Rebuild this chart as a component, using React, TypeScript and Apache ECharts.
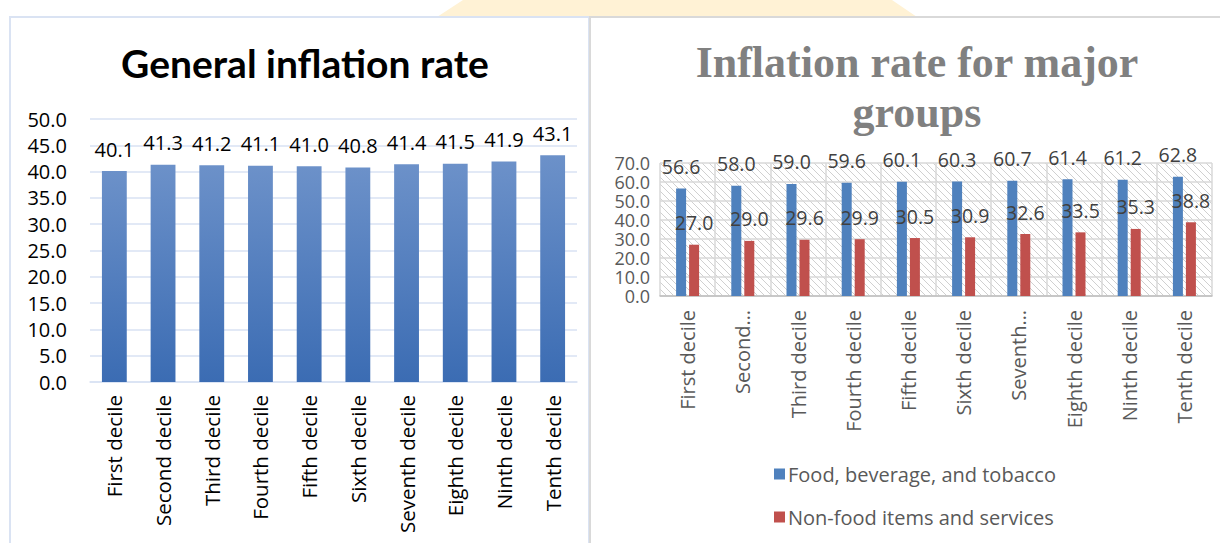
import React, { useEffect, useRef } from "react";
import * as echarts from "echarts";

const categories = [
  "First decile", "Second decile", "Third decile", "Fourth decile", "Fifth decile",
  "Sixth decile", "Seventh decile", "Eighth decile", "Ninth decile", "Tenth decile",
];
const rightTickLabels = [
  "First decile", "Second…", "Third decile", "Fourth decile", "Fifth decile",
  "Sixth decile", "Seventh…", "Eighth decile", "Ninth decile", "Tenth decile",
];
const generalRate = [40.1, 41.3, 41.2, 41.1, 41.0, 40.8, 41.4, 41.5, 41.9, 43.1];
const foodRate = [56.6, 58.0, 59.0, 59.6, 60.1, 60.3, 60.7, 61.4, 61.2, 62.8];
const nonFoodRate = [27.0, 29.0, 29.6, 29.9, 30.5, 30.9, 32.6, 33.5, 35.3, 38.8];
const seriesNames = ["Food, beverage, and tobacco", "Non-food items and services"];

const SANS = "'Open Sans', Lato, sans-serif";
const TITLE = "Lato, 'Open Sans', sans-serif";

function makeHatch(): HTMLCanvasElement {
  const c = document.createElement("canvas");
  c.width = 7;
  c.height = 7;
  const ctx = c.getContext("2d")!;
  ctx.fillStyle = "#ffffff";
  ctx.fillRect(0, 0, 7, 7);
  ctx.strokeStyle = "#d0d0d0";
  ctx.lineWidth = 1;
  ctx.beginPath();
  ctx.moveTo(-1, -1);
  ctx.lineTo(8, 8);
  ctx.moveTo(-1, 6);
  ctx.lineTo(1, 8);
  ctx.moveTo(6, -1);
  ctx.lineTo(8, 1);
  ctx.stroke();
  return c;
}

export default function App() {
  const ref = useRef<HTMLDivElement>(null);
  useEffect(() => {
    if (!ref.current) return;
    const chart = echarts.init(ref.current, null, { renderer: "svg" });
    const fmt = (p: any) => Number(p.value).toFixed(1);
    chart.setOption({
      animation: false,
      backgroundColor: "#ffffff",
      graphic: [
        {
          type: "polygon",
          z: -10,
          shape: { points: [[437, 17], [463, 0], [892, 0], [917, 17]] },
          style: { fill: "#fff2d5" },
          silent: true,
        },
        {
          type: "rect",
          z: -5,
          shape: { x: 10, y: 17, width: 579, height: 540 },
          style: { fill: "none", stroke: "#dae3f3", lineWidth: 2 },
          silent: true,
        },
        {
          type: "line",
          z: -4,
          shape: { x1: 590, y1: 17, x2: 1220, y2: 17 },
          style: { stroke: "#d9d9d9", lineWidth: 2 },
          silent: true,
        },
        {
          type: "line",
          z: -4,
          shape: { x1: 590, y1: 16, x2: 590, y2: 543 },
          style: { stroke: "#d9d9d9", lineWidth: 2 },
          silent: true,
        },
      ],
      title: [
        {
          text: "General inflation rate",
          left: 300,
          textAlign: "center",
          top: 38,
          textStyle: { fontFamily: TITLE, fontWeight: "bold", fontSize: 39, color: "#000000" },
        },
        {
          text: "Inflation rate for major\ngroups",
          left: 912,
          textAlign: "center",
          top: 32,
          textStyle: {
            fontFamily: "'Liberation Serif', serif",
            fontWeight: "bold",
            fontSize: 44,
            lineHeight: 50,
            color: "#808080",
          },
        },
      ],
      legend: {
        orient: "vertical",
        left: 769,
        top: 459,
        itemGap: 23,
        itemWidth: 11,
        itemHeight: 11,
        icon: "rect",
        data: seriesNames,
        textStyle: { fontFamily: SANS, fontSize: 20, color: "#595959", padding: [0, 0, 0, -2] },
      },
      grid: [
        { left: 90, right: 643, top: 119, bottom: 161 },
        {
          left: 660,
          right: 8,
          top: 163,
          bottom: 247,
          show: true,
          borderWidth: 0,
          backgroundColor: { image: makeHatch(), repeat: "repeat" },
        },
      ],
      xAxis: [
        {
          type: "category",
          gridIndex: 0,
          data: categories,
          axisLine: { lineStyle: { color: "#d9e2f3", width: 1.5 } },
          axisTick: { show: false },
          axisLabel: {
            rotate: 90,
            margin: 13,
            interval: 0,
            fontFamily: SANS,
            fontSize: 20.5,
            color: "#000000",
          },
        },
        {
          type: "category",
          gridIndex: 1,
          data: categories,
          axisLine: { lineStyle: { color: "#bfbfbf", width: 1.5 } },
          axisTick: { show: false },
          splitLine: { show: true, interval: 0, lineStyle: { color: "#d9d9d9", width: 1.5 } },
          axisLabel: {
            rotate: 90,
            margin: 14,
            interval: 0,
            fontFamily: SANS,
            fontSize: 20,
            color: "#595959",
            formatter: (_v: string, i: number) => rightTickLabels[i],
          },
        },
      ],
      yAxis: [
        {
          type: "value",
          gridIndex: 0,
          min: 0,
          max: 50,
          interval: 5,
          axisLine: { show: false },
          axisTick: { show: false },
          splitLine: { lineStyle: { color: "#d9e2f3", width: 1.5 } },
          axisLabel: {
            margin: 23,
            fontFamily: SANS,
            fontSize: 20,
            color: "#000000",
            formatter: (v: number) => v.toFixed(1),
          },
        },
        {
          type: "value",
          gridIndex: 1,
          min: 0,
          max: 70,
          interval: 10,
          axisLine: { show: false },
          axisTick: { show: false },
          splitLine: { lineStyle: { color: "#d9d9d9", width: 1.5 } },
          axisLabel: {
            margin: 10,
            fontFamily: SANS,
            fontSize: 18,
            lineHeight: 16,
            showMinLabel: true,
            showMaxLabel: true,
            hideOverlap: false,
            color: "#595959",
            formatter: (v: number) => v.toFixed(1),
          },
        },
      ],
      series: [
        {
          name: "General",
          type: "bar",
          xAxisIndex: 0,
          yAxisIndex: 0,
          data: generalRate,
          barWidth: "51%",
          itemStyle: {
            color: new echarts.graphic.LinearGradient(0, 0, 0, 1, [
              { offset: 0, color: "#6c91c9" },
              { offset: 1, color: "#3b6cb3" },
            ]),
          },
          label: {
            show: true,
            position: "top",
            distance: 12,
            fontFamily: SANS,
            fontSize: 20,
            color: "#000000",
            formatter: fmt,
          },
        },
        {
          name: seriesNames[0],
          type: "bar",
          xAxisIndex: 1,
          yAxisIndex: 1,
          data: foodRate,
          barWidth: 10,
          barGap: "30%",
          itemStyle: { color: "#4f81bd" },
          label: {
            show: true,
            position: "top",
            distance: 12,
            fontFamily: SANS,
            fontSize: 19.5,
            color: "#404040",
            formatter: fmt,
          },
        },
        {
          name: seriesNames[1],
          type: "bar",
          xAxisIndex: 1,
          yAxisIndex: 1,
          data: nonFoodRate,
          barWidth: 10,
          itemStyle: { color: "#c0504d" },
          label: {
            show: true,
            position: "top",
            distance: 12,
            fontFamily: SANS,
            fontSize: 19.5,
            color: "#404040",
            formatter: fmt,
          },
        },
      ],
    });
    return () => chart.dispose();
  }, []);
  return (
    <div
      ref={ref}
      style={{ position: "fixed", left: 0, top: 0, width: 1220, height: 543 }}
    />
  );
}
